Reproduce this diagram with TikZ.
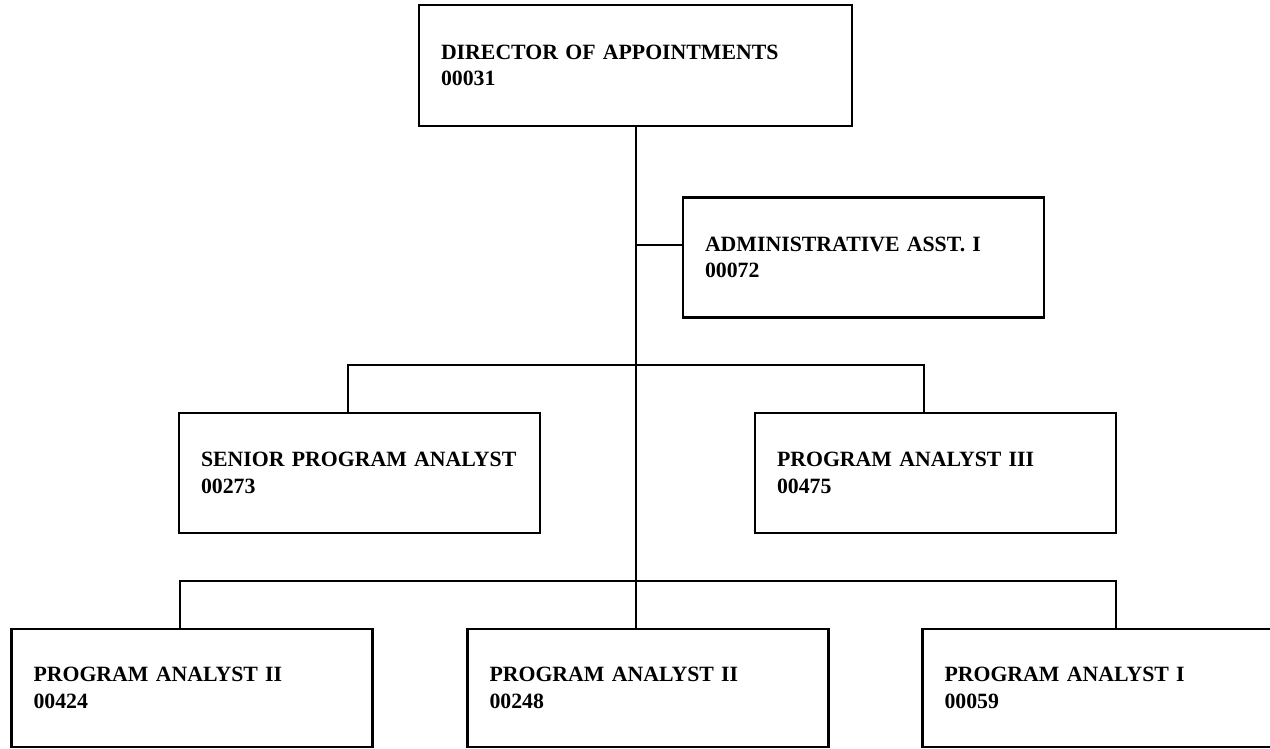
\documentclass[tikz,border=0pt]{standalone}
\usepackage{fontspec}
\setmainfont{Liberation Serif}
\usepackage{tikz}
\usetikzlibrary{calc}

\begin{document}
\begin{tikzpicture}[x=0.5pt, y=-0.5pt]
	\tikzset{
		postnode/.style={rectangle, draw=black, line width=1.4pt, inner xsep=11pt, inner ysep=0pt, align=left, font=\fontsize{10.9}{13.2}\selectfont\bfseries},
		postwide/.style={postnode, text width=194.5pt, minimum height=60.5pt},
		postnorm/.style={postnode, text width=158.5pt, minimum height=60pt},
		orgline/.style={-, line width=1pt}
	}
	\useasboundingbox (0,0) rectangle (1270,749);

	\node[postwide] (dir) at (635.5,65.5) {DIRECTOR OF APPOINTMENTS\\00031};
	\node[postnorm] (admin) at (863.5,257.5) {ADMINISTRATIVE ASST. I\\00072};

	\node[postnorm] (senior) at (359.5,473) {SENIOR PROGRAM ANALYST\\00273};
	\node[postnorm] (pa3) at (935.5,473) {PROGRAM ANALYST III\\00475};

	\node[postnorm, minimum height=59pt] (pa2a) at (192,688) {PROGRAM ANALYST II\\00424};
	\node[postnorm, minimum height=59pt] (pa2b) at (648,688) {PROGRAM ANALYST II\\00248};
	\node[postnorm, minimum height=59pt] (pa1) at (1103,688) {PROGRAM ANALYST I\\00059};

	% trunk and staff line
	\draw[orgline] (dir.south) -- (dir.south |- pa2b.north);
	\coordinate (adm) at ([yshift=6.25pt]admin.west);
	\draw[orgline] (dir.south |- adm) -- (adm);

	% second level
	\coordinate (sen) at ([xshift=-5.75pt]senior.north);
	\coordinate (thr) at ([xshift=-5.75pt]pa3.north);
	\draw[orgline] (sen) -- ++(0,-47) -| (thr);

	% third level
	\coordinate (lft) at ([xshift=-6pt]pa2a.north);
	\coordinate (rgt) at ([xshift=6.5pt]pa1.north);
	\draw[orgline] (lft) -- ++(0,-47) -| (rgt);
\end{tikzpicture}
\end{document}
